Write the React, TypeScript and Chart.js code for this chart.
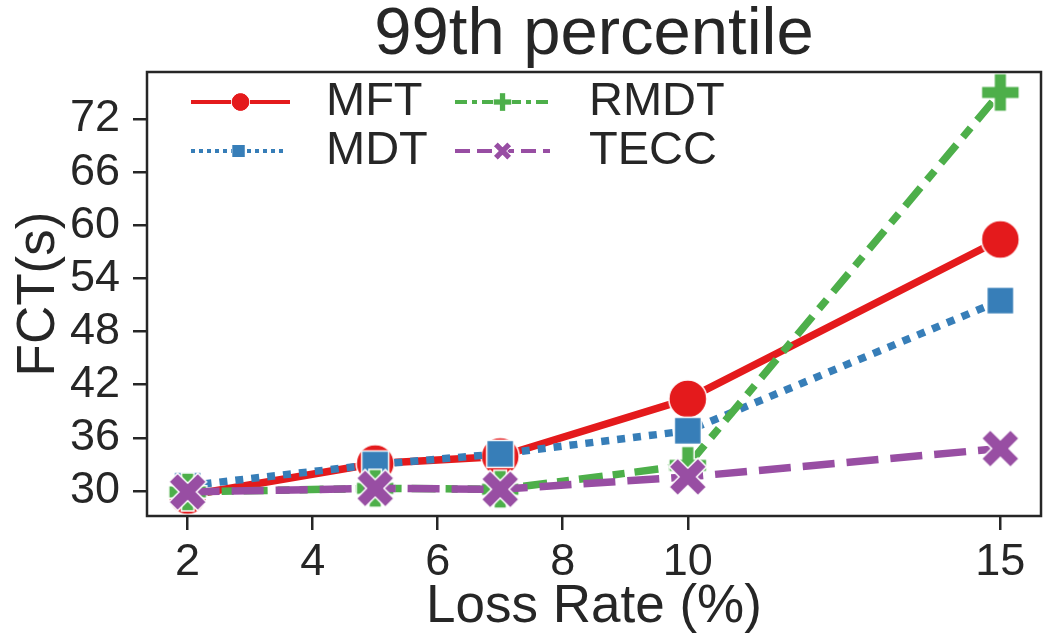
import React, { useEffect, useRef } from 'react';
import { Chart, registerables } from 'chart.js';

Chart.register(...registerables);

const lossRates = [2, 5, 7, 10, 15];
const mftValues = [29.5, 33.1, 33.9, 40.4, 58.4];
const mdtValues = [30.6, 33.0, 34.2, 36.8, 51.5];
const rmdtValues = [29.9, 30.3, 30.2, 32.9, 75.0];
const teccValues = [29.9, 30.3, 30.2, 31.6, 34.8];
const xTickValues = [2, 4, 6, 8, 10, 15];
const yTickValues = [30, 36, 42, 48, 54, 60, 66, 72];
const seriesNames = ['MFT', 'MDT', 'RMDT', 'TECC'];

const FONT = "'Liberation Sans', Arial, Helvetica, sans-serif";
const INK = '#262626';

function plusPts(h: number, t: number): [number, number][] {
  return [
    [-t, -h], [t, -h], [t, -t], [h, -t], [h, t], [t, t],
    [t, h], [-t, h], [-t, t], [-h, t], [-h, -t], [-t, -t],
  ];
}

function makeMarker(kind: string, color: string): HTMLCanvasElement {
  const size = 46;
  const c = document.createElement('canvas');
  c.width = size;
  c.height = size;
  const ctx = c.getContext('2d')!;
  ctx.translate(size / 2, size / 2);
  ctx.beginPath();
  if (kind === 'circle') {
    ctx.arc(0, 0, 19, 0, Math.PI * 2);
  } else if (kind === 'square') {
    ctx.rect(-13.5, -13.5, 27, 27);
  } else {
    const pts = kind === 'plus' ? plusPts(19, 6.3) : plusPts(20.5, 6.2);
    const a = kind === 'plus' ? 0 : Math.PI / 4;
    pts.forEach(([px, py], i) => {
      const rx = px * Math.cos(a) - py * Math.sin(a);
      const ry = px * Math.sin(a) + py * Math.cos(a);
      if (i === 0) ctx.moveTo(rx, ry);
      else ctx.lineTo(rx, ry);
    });
  }
  ctx.closePath();
  ctx.fillStyle = color;
  ctx.fill();
  ctx.lineWidth = 1.5;
  ctx.strokeStyle = '#ffffff';
  ctx.lineJoin = 'miter';
  ctx.stroke();
  return c;
}

export default function App() {
  const canvasRef = useRef<HTMLCanvasElement | null>(null);

  useEffect(() => {
    const canvas = canvasRef.current;
    if (!canvas) return;

    const colors = ['#e41a1c', '#377eb8', '#4daf4a', '#984ea3'];
    const kinds = ['circle', 'square', 'plus', 'x'];
    const dashes: number[][] = [[], [8, 8], [24, 10, 12, 10], [32, 12]];
    const legendDashes: number[][] = [[], [4, 4], [12, 5, 5, 5], [15, 7]];
    const values = [mftValues, mdtValues, rmdtValues, teccValues];
    const markers = kinds.map((k, i) => makeMarker(k, colors[i]));

    const datasets = seriesNames.map((name, i) => ({
      label: name,
      data: lossRates.map((x, j) => ({ x, y: values[i][j] })),
      borderColor: colors[i],
      backgroundColor: colors[i],
      borderWidth: 7.5,
      borderDash: dashes[i],
      borderCapStyle: 'butt' as const,
      borderJoinStyle: 'round' as const,
      pointStyle: markers[i] as any,
      pointRadius: 19,
      pointHoverRadius: 19,
      tension: 0,
      clip: false as any,
      order: 4 - i,
    }));

    const legendPos = [
      { lineX0: 191, lineX1: 290, textX: 326, y: 102 },
      { lineX0: 191, lineX1: 286, textX: 326, y: 151 },
      { lineX0: 455, lineX1: 550, textX: 589, y: 102 },
      { lineX0: 455, lineX1: 550, textX: 589, y: 151 },
    ];

    const framePlugin = {
      id: 'frameAndLegend',
      afterDatasetsDraw(chart: any) {
        const { ctx, chartArea } = chart;
        ctx.save();
        ctx.strokeStyle = INK;
        ctx.lineWidth = 2.5;
        ctx.strokeRect(chartArea.left, chartArea.top, chartArea.right - chartArea.left, chartArea.bottom - chartArea.top);
        ctx.restore();
      },
      afterDraw(chart: any) {
        const { ctx } = chart;
        ctx.save();
        seriesNames.forEach((name, i) => {
          const p = legendPos[i];
          ctx.beginPath();
          ctx.setLineDash(legendDashes[i]);
          ctx.lineCap = 'butt';
          ctx.strokeStyle = colors[i];
          ctx.lineWidth = 4;
          ctx.moveTo(p.lineX0, p.y);
          ctx.lineTo(p.lineX1, p.y);
          ctx.stroke();
          ctx.setLineDash([]);
          const m = markers[i];
          const s = 0.48;
          const cx = (p.lineX0 + p.lineX1) / 2;
          ctx.drawImage(m, cx - (m.width * s) / 2, p.y - (m.height * s) / 2, m.width * s, m.height * s);
          ctx.fillStyle = INK;
          ctx.font = `47px ${FONT}`;
          ctx.textAlign = 'left';
          ctx.textBaseline = 'middle';
          ctx.fillText(name, p.textX, p.y);
        });
        ctx.restore();
      },
    };

    const chart = new Chart(canvas, {
      type: 'line',
      data: { datasets: datasets as any },
      options: {
        animation: false,
        responsive: false,
        devicePixelRatio: 1,
        events: [],
        layout: { autoPadding: false, padding: { top: 0, right: 6, bottom: 0, left: 0 } },
        plugins: {
          legend: { display: false },
          tooltip: { enabled: false },
          title: {
            display: true,
            text: '99th percentile',
            color: INK,
            fullSize: false,
            font: { family: FONT, size: 67, weight: 'normal', lineHeight: 1 },
            padding: { top: 2, bottom: 3 },
          },
        },
        scales: {
          x: {
            type: 'linear',
            min: 1.35,
            max: 15.65,
            afterBuildTicks: (scale: any) => {
              scale.ticks = xTickValues.map((v) => ({ value: v }));
            },
            afterFit: (scale: any) => {
              scale.height = 120;
            },
            ticks: {
              color: INK,
              font: { family: FONT, size: 45, lineHeight: 1.2 },
              padding: 6,
              maxRotation: 0,
              autoSkip: false,
              callback: (v: any) => String(v),
            },
            grid: {
              drawOnChartArea: false,
              drawTicks: true,
              tickLength: 14,
              tickWidth: 2.5,
              tickColor: INK,
              lineWidth: 2.5,
              color: INK,
            },
            border: { display: false },
            title: {
              display: true,
              text: 'Loss Rate (%)',
              color: INK,
              font: { family: FONT, size: 53, lineHeight: 1 },
              padding: { top: 0, bottom: 2 },
            },
          },
          y: {
            type: 'linear',
            min: 27.18,
            max: 77.31,
            afterBuildTicks: (scale: any) => {
              scale.ticks = yTickValues.map((v) => ({ value: v }));
            },
            afterFit: (scale: any) => {
              scale.width = 147;
            },
            ticks: {
              color: INK,
              font: { family: FONT, size: 45, lineHeight: 1.2 },
              padding: 13,
              autoSkip: false,
              callback: (v: any) => String(v),
            },
            grid: {
              drawOnChartArea: false,
              drawTicks: true,
              tickLength: 14,
              tickWidth: 2.5,
              tickColor: INK,
              lineWidth: 2.5,
              color: INK,
            },
            border: { display: false },
            title: {
              display: true,
              text: 'FCT(s)',
              color: INK,
              font: { family: FONT, size: 53, lineHeight: 1 },
              padding: { top: 13, bottom: 0 },
            },
          },
        },
      },
      plugins: [framePlugin],
    });

    return () => {
      chart.destroy();
    };
  }, []);

  return (
    <div style={{ position: 'fixed', left: 0, top: 0, width: 1047, height: 636, background: '#ffffff' }}>
      <canvas ref={canvasRef} width={1047} height={636} style={{ display: 'block', width: 1047, height: 636 }} />
    </div>
  );
}
